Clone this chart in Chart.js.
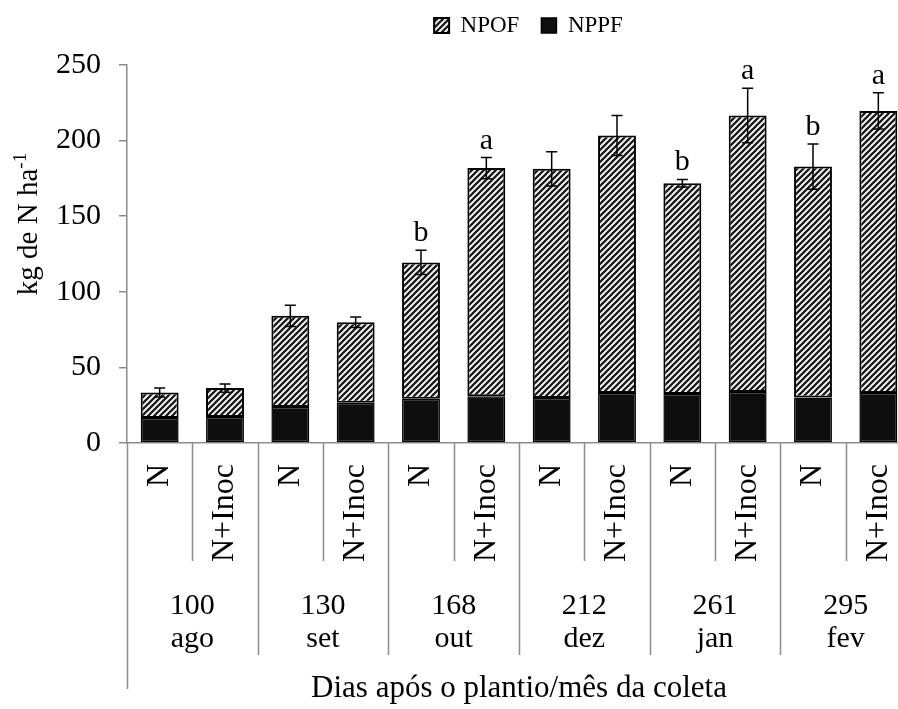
<!DOCTYPE html>
<head>
    <meta charset="utf-8">
    <title>NPOF / NPPF</title>
    <script src="https://cdn.jsdelivr.net/npm/chart.js"></script>
    <style>
        body { margin: 0; overflow: hidden; background: #fff; }
        .chart-box { width: 911px; height: 709px; }
    </style>
</head>
<body>
<div class="chart-box"><canvas id="chart" width="911" height="709"></canvas></div>

<script>
    const treatments = ['N', 'N+Inoc', 'N', 'N+Inoc', 'N', 'N+Inoc', 'N', 'N+Inoc', 'N', 'N+Inoc', 'N', 'N+Inoc'];
    const collections = [['100', 'ago'], ['130', 'set'], ['168', 'out'], ['212', 'dez'], ['261', 'jan'], ['295', 'fev']];
    const nppf = [16.6, 17.2, 23.8, 26.6, 29.3, 31.0, 29.7, 33.0, 32.4, 33.7, 30.1, 33.0];
    const npof = [16.8, 19.1, 60.3, 53.3, 90.1, 150.8, 151.6, 170.4, 139.4, 182.9, 152.7, 186.6];
    const errors = [3.0, 2.7, 7.0, 3.5, 8.0, 7.0, 11.3, 13.2, 2.5, 18.0, 15.0, 12.0];
    const letters = ['', '', '', '', 'b', 'a', '', '', 'b', 'a', 'b', 'a'];
    const yTicks = [0, 50, 100, 150, 200, 250];

    const axisGray = '#8c8c8c';
    const serif = '"Liberation Serif", "Times New Roman", serif';

    Chart.defaults.font.family = serif;
    Chart.defaults.color = '#000';

    // diagonal "/" hatch like the excel pattern fill
    function hatch() {
        const s = 6;
        const c = document.createElement('canvas');
        c.width = s; c.height = s;
        const g = c.getContext('2d');
        g.fillStyle = '#fff';
        g.fillRect(0, 0, s, s);
        g.strokeStyle = '#1c1c1c';
        g.lineWidth = 2.3;
        g.beginPath();
        g.moveTo(0, s); g.lineTo(s, 0);
        g.moveTo(-s / 2, s / 2); g.lineTo(s / 2, -s / 2);
        g.moveTo(s / 2, s * 1.5); g.lineTo(s * 1.5, s / 2);
        g.stroke();
        return g.createPattern(c, 'repeat');
    }

    // legend sits right of centre and higher than chart.js would put it
    const legendShift = {
        id: 'legendShift',
        afterLayout(chart) {
            const lg = chart.legend;
            lg.left += 73; lg.right += 73;
            lg.top -= 18; lg.bottom -= 18;
        }
    };

    const extras = {
        id: 'extras',
        afterDatasetsDraw(chart) {
            const ctx = chart.ctx;
            const y = chart.scales.y;
            const meta = chart.getDatasetMeta(1);
            ctx.save();
            ctx.strokeStyle = '#000';
            ctx.lineWidth = 1.5;
            ctx.fillStyle = '#000';
            ctx.font = '30px ' + serif;
            ctx.textAlign = 'center';
            ctx.textBaseline = 'alphabetic';
            meta.data.forEach((bar, i) => {
                const total = nppf[i] + npof[i];
                const top = y.getPixelForValue(total + errors[i]);
                const bottom = y.getPixelForValue(total - errors[i]);
                ctx.beginPath();
                ctx.moveTo(bar.x, top); ctx.lineTo(bar.x, bottom);
                ctx.moveTo(bar.x - 5.5, top); ctx.lineTo(bar.x + 5.5, top);
                ctx.moveTo(bar.x - 5.5, bottom); ctx.lineTo(bar.x + 5.5, bottom);
                ctx.stroke();
                if (letters[i]) ctx.fillText(letters[i], bar.x, top - 9);
            });
            ctx.restore();
        },
        afterDraw(chart) {
            const ctx = chart.ctx;
            const x = chart.scales.x;
            const x2 = chart.scales.x2;
            const step = (x.right - x.left) / treatments.length;
            ctx.save();
            ctx.strokeStyle = axisGray;
            ctx.lineWidth = 1.5;
            ctx.beginPath();
            for (let i = 0; i <= treatments.length; i++) {
                const bx = Math.round(x.left + i * step) + 0.5;
                let end = x.bottom;
                if (i === 0) end = x2.bottom - 20;
                else if (i % 2 === 0) end = x2.top + 94;
                ctx.moveTo(bx, x.top);
                ctx.lineTo(bx, end);
            }
            ctx.stroke();

            // y title with superscript -1
            const main = 'kg de N ha';
            const sup = '-1';
            ctx.fillStyle = '#000';
            ctx.font = '29px ' + serif;
            const wMain = ctx.measureText(main).width;
            ctx.font = '19px ' + serif;
            const wSup = ctx.measureText(sup).width;
            ctx.translate(37, 224);
            ctx.rotate(-Math.PI / 2);
            ctx.textAlign = 'left';
            ctx.textBaseline = 'alphabetic';
            const start = -(wMain + wSup) / 2;
            ctx.font = '29px ' + serif;
            ctx.fillText(main, start, 0);
            ctx.font = '19px ' + serif;
            ctx.fillText(sup, start + wMain, -11);
            ctx.restore();
        }
    };

    const chart = new Chart(document.getElementById('chart'), {
        type: 'bar',
        data: {
            labels: treatments,
            datasets: [{
                label: 'NPPF',
                data: nppf,
                backgroundColor: '#0e0e0e',
                borderColor: '#000',
                borderWidth: 1.5,
                borderSkipped: false
            }, {
                label: 'NPOF',
                data: npof,
                backgroundColor: hatch(),
                borderColor: '#000',
                borderWidth: 2,
                borderSkipped: false
            }]
        },
        options: {
            responsive: false,
            animation: false,
            layout: { padding: { top: 10, left: 0, right: 0, bottom: 0 } },
            datasets: { bar: { barPercentage: 0.58, categoryPercentage: 1.0 } },
            plugins: {
                tooltip: { enabled: false },
                legend: {
                    reverse: true,
                    labels: {
                        boxWidth: 15,
                        boxHeight: 15,
                        padding: 22,
                        font: { size: 23, family: serif },
                        color: '#000'
                    }
                }
            },
            scales: {
                y: {
                    stacked: true,
                    min: 0,
                    max: 250,
                    afterBuildTicks: s => { s.ticks = yTicks.map(v => ({ value: v })); },
                    afterFit: s => { s.width = 127; },
                    grid: { drawOnChartArea: false, tickLength: 8, color: axisGray, lineWidth: 1.5 },
                    border: { color: axisGray, width: 1.5 },
                    ticks: { padding: 18, font: { size: 30 }, color: '#000' }
                },
                x: {
                    stacked: true,
                    weight: 0,
                    afterFit: s => { s.height = 118; s.paddingLeft = 0; s.paddingRight = 0; },
                    grid: { display: false },
                    border: { color: axisGray, width: 1.5 },
                    ticks: {
                        autoSkip: false,
                        minRotation: 90,
                        maxRotation: 90,
                        padding: 13,
                        font: { size: 32 },
                        color: '#000'
                    }
                },
                x2: {
                    type: 'category',
                    position: 'bottom',
                    weight: 1,
                    labels: collections,
                    offset: true,
                    afterFit: s => { s.height = 148; s.paddingLeft = 0; s.paddingRight = 0; },
                    grid: { display: false },
                    border: { display: false },
                    ticks: { padding: 20, font: { size: 30, lineHeight: 1.12 }, color: '#000' },
                    title: {
                        display: true,
                        text: 'Dias após o plantio/mês da coleta',
                        font: { size: 31 },
                        color: '#000',
                        padding: { top: 0, bottom: 2 }
                    }
                }
            }
        },
        plugins: [legendShift, extras]
    });
</script>
</body>
</html>
